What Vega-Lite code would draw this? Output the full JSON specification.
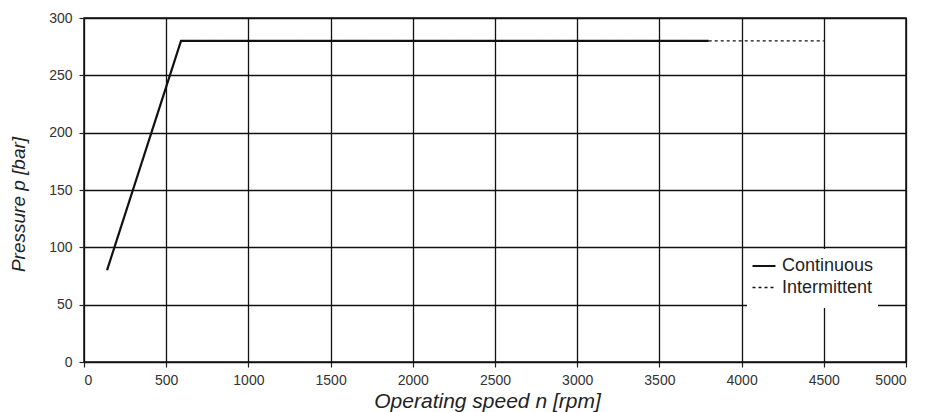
{
  "$schema": "https://vega.github.io/schema/vega-lite/v6.json",
  "autosize": {"type": "none"},
  "width": 822,
  "height": 344,
  "padding": {"left": 84, "top": 18, "right": 19, "bottom": 50},
  "background": "white",
  "config": {
    "font": "Liberation Sans",
    "view": {"stroke": "#111", "strokeWidth": 1.5},
    "axis": {
      "gridColor": "#111",
      "gridWidth": 1.3,
      "gridOpacity": 1,
      "domain": false,
      "tickColor": "#222",
      "tickSize": 5,
      "tickWidth": 1.2,
      "labelFont": "Liberation Sans",
      "labelFontSize": 14,
      "labelColor": "#333",
      "titleFont": "Liberation Sans",
      "titleFontStyle": "italic",
      "titleFontWeight": "normal",
      "titleColor": "#222"
    }
  },
  "data": {
    "values": [
      {"series": "Continuous", "n": 140, "p": 80},
      {"series": "Continuous", "n": 590, "p": 280},
      {"series": "Continuous", "n": 3800, "p": 280},
      {"series": "Intermittent", "n": 3800, "p": 280},
      {"series": "Intermittent", "n": 4500, "p": 280}
    ]
  },
  "mark": {"type": "line", "color": "#111", "strokeCap": "butt"},
  "encoding": {
    "x": {
      "field": "n",
      "type": "quantitative",
      "scale": {"domain": [0, 5000], "nice": false},
      "axis": {
        "values": [0, 500, 1000, 1500, 2000, 2500, 3000, 3500, 4000, 4500, 5000],
        "format": "d",
        "labelPadding": 6,
        "title": "Operating speed n [rpm]",
        "titleFontSize": 21,
        "titleX": 403,
        "titleY": 45,
        "titleBaseline": "alphabetic"
      }
    },
    "y": {
      "field": "p",
      "type": "quantitative",
      "scale": {"domain": [0, 300], "nice": false},
      "axis": {
        "values": [0, 50, 100, 150, 200, 250, 300],
        "format": "d",
        "labelPadding": 7,
        "title": "Pressure p [bar]",
        "titleFontSize": 19,
        "titleX": -56,
        "titleY": 186
      }
    },
    "strokeDash": {
      "field": "series",
      "type": "nominal",
      "scale": {"domain": ["Continuous", "Intermittent"], "range": [[1, 0], [3, 3]]},
      "legend": {
        "title": "\u00a0",
        "titleOrient": "bottom",
        "titleFontSize": 6,
        "titlePadding": 1,
        "orient": "none",
        "legendX": 663,
        "legendY": 231,
        "fillColor": "white",
        "padding": 4,
        "symbolType": "stroke",
        "symbolSize": 529,
        "symbolStrokeColor": "#111",
        "labelFont": "Liberation Sans",
        "labelFontSize": 18,
        "labelColor": "#222",
        "labelOffset": 5,
        "rowPadding": -2
      }
    },
    "strokeWidth": {
      "field": "series",
      "type": "nominal",
      "scale": {"domain": ["Continuous", "Intermittent"], "range": [2.2, 1.3]},
      "legend": {
        "title": "\u00a0",
        "titleOrient": "bottom",
        "titleFontSize": 6,
        "titlePadding": 1,
        "orient": "none",
        "legendX": 663,
        "legendY": 231,
        "fillColor": "white",
        "padding": 4,
        "symbolType": "stroke",
        "symbolSize": 529,
        "symbolStrokeColor": "#111",
        "labelFont": "Liberation Sans",
        "labelFontSize": 18,
        "labelColor": "#222",
        "labelOffset": 5,
        "rowPadding": -2
      }
    }
  }
}
